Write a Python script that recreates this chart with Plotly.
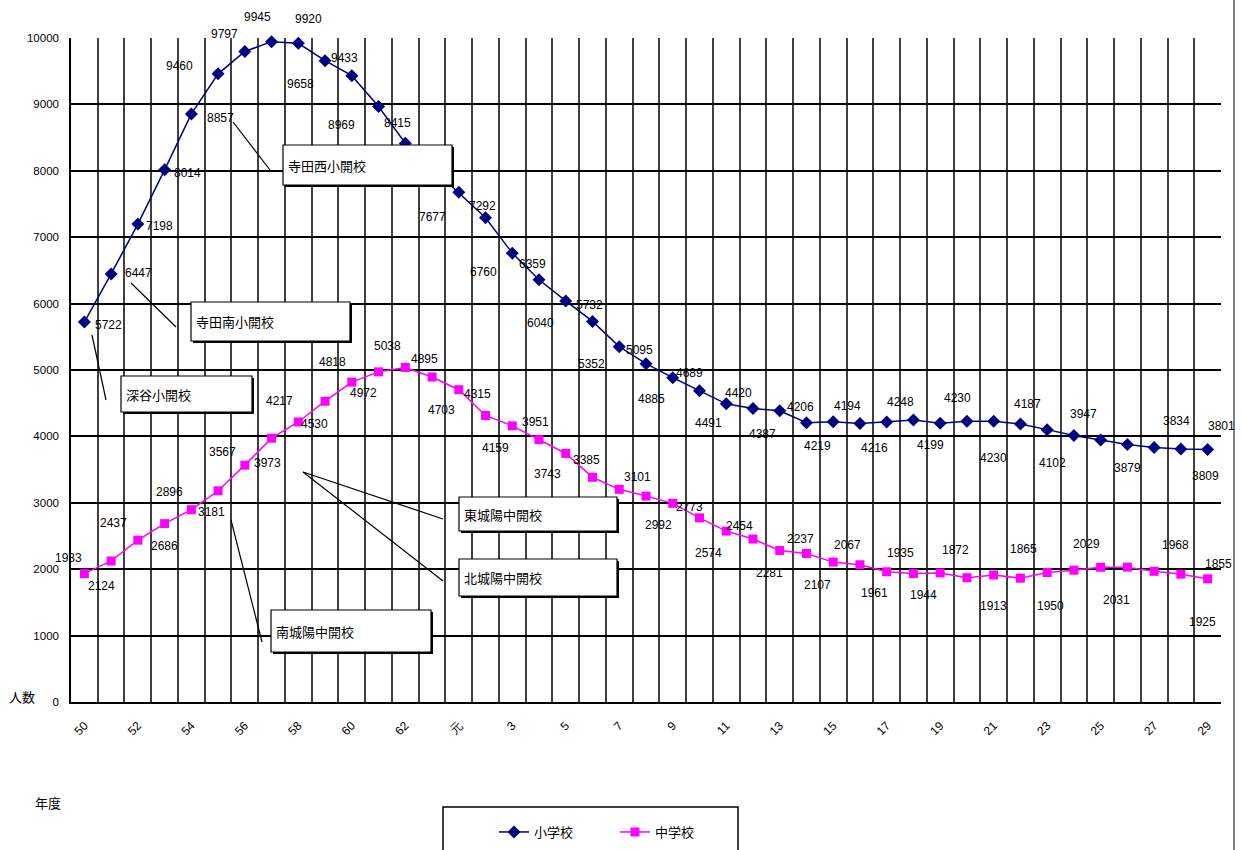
import plotly.graph_objects as go

# ---------------- data ----------------
categories = [str(y) for y in range(50, 64)] + ["元"] + [str(y) for y in range(2, 30)]
elementary = [5722, 6447, 7198, 8014, 8857, 9460, 9797, 9945, 9920, 9658, 9433, 8969, 8415, 8041,
              7677, 7292, 6760, 6359, 6040, 5732, 5352, 5095, 4885, 4689, 4491, 4420, 4387, 4206,
              4219, 4194, 4216, 4248, 4199, 4230, 4230, 4187, 4102, 4014, 3947, 3879, 3834, 3809, 3801]
junior = [1933, 2124, 2437, 2686, 2896, 3181, 3567, 3973, 4217, 4530, 4818, 4972, 5038, 4895,
          4703, 4315, 4159, 3951, 3743, 3385, 3203, 3101, 2992, 2773, 2574, 2454, 2281, 2237,
          2107, 2067, 1961, 1935, 1944, 1872, 1913, 1865, 1950, 1985, 2029, 2031, 1968, 1925, 1855]
series_names = ["小学校", "中学校"]
y_ticks = list(range(0, 10001, 1000))
y_ticktext = [str(v) for v in y_ticks]

# label offsets (pixels, dx right, dy down); None = no label shown
elem_off = [(24, 3), (27, -1), (22, 2), (23, 3), (29, 4), (-39, -8), (-20, -17), (-14, -25), (10, -24),
            (-25, 23), (-7, -18), (-37, 19), (-8, -20), None, (-26, 25), (-3, -12), (-29, 19), (-7, -16),
            (-25, 22), (-3, -16), (-28, 17), (-7, -14), (-21, 21), (-10, -18), (-18, 19), (-14, -16),
            (-17, 23), (-6, -16), (-16, 24), (-12, -18), (-12, 26), (-13, -18), (-10, 22), (-9, -23),
            (0, 37), (7, -20), (5, 33), None, (-17, -26), (0, 24), (22, -26), (25, 27), (14, -24)]
jun_off = [(-16, -16), (-10, 25), (-24, -17), (0, 22), (-22, -18), (-7, 21), (-22, -13), (-4, 25),
           (-19, -21), (-11, 23), (-19, -20), (-15, 21), (-18, -21), (-8, -18), (-17, 20), (-8, -21),
           (-17, 22), (-4, -18), (-18, 21), (-6, -17), None, (-9, -19), (-14, 22), (-10, -11),
           (-18, 22), (-13, -13), (-10, 22), (-6, -14), (-16, 23), (-12, -20), (-12, 21), (-13, -21),
           (-17, 22), (-11, -28), (0, 31), (3, -29), (3, 33), None, (-14, -23), (-11, 33), (21, -26),
           (22, 48), (11, -15)]

# ---------------- layout geometry ----------------
W, H = 1242, 850
ML, MR, MT, MB = 71, 21, 38, 148
PW, PH = W - ML - MR, H - MT - MB


def px(x):
    return (x - ML) / PW


def py(y):
    return (H - MB - y) / PH


NUM_FONT = "Liberation Sans Narrow, Liberation Sans, Arial, sans-serif"
CJK_FONT = "Noto Sans CJK JP, sans-serif"
NAVY = "#000080"
MAGENTA = "#FF00FF"

xs = list(range(len(categories)))

fig = go.Figure()
fig.add_trace(go.Scatter(x=xs, y=elementary, name=series_names[0], mode="lines+markers",
                         line=dict(color=NAVY, width=1.5),
                         marker=dict(symbol="diamond", size=10, color=NAVY),
                         cliponaxis=False))
fig.add_trace(go.Scatter(x=xs, y=junior, name=series_names[1], mode="lines+markers",
                         line=dict(color=MAGENTA, width=1.5),
                         marker=dict(symbol="square", size=9, color=MAGENTA),
                         cliponaxis=False))

annotations = []
for vals, offs in ((elementary, elem_off), (junior, jun_off)):
    for i, (v, o) in enumerate(zip(vals, offs)):
        if o is None:
            continue
        annotations.append(dict(x=i, y=v, xref="x", yref="y", text=str(v), showarrow=False,
                                xshift=o[0], yshift=-o[1], xanchor="center", yanchor="middle",
                                font=dict(family=NUM_FONT, size=12, color="#000000")))

shapes = []
# callout boxes: (label, x0, y0, x1, y1) in pixels, plus leader lines
boxes = [("寺田西小開校", 283, 145, 452, 185),
         ("寺田南小開校", 191, 302, 350, 341),
         ("深谷小開校", 121, 376, 252, 412),
         ("東城陽中開校", 459, 497, 617, 531),
         ("北城陽中開校", 459, 559, 617, 596),
         ("南城陽中開校", 271, 610, 431, 652)]
leaders = [(233, 122, 270, 170), (131, 283, 176, 327), (92, 335, 106, 400),
           (303, 472, 443, 519), (303, 472, 443, 581), (231, 520, 262, 642)]
for x0, y0, x1, y1 in leaders:
    shapes.append(dict(type="line", xref="paper", yref="paper", x0=px(x0), y0=py(y0),
                       x1=px(x1), y1=py(y1), line=dict(color="#000000", width=1.2)))
for label, x0, y0, x1, y1 in boxes:
    shapes.append(dict(type="rect", xref="paper", yref="paper", x0=px(x0 + 2), y0=py(y0 + 2),
                       x1=px(x1 + 2), y1=py(y1 + 2), fillcolor="#000000", line=dict(width=0)))
    shapes.append(dict(type="rect", xref="paper", yref="paper", x0=px(x0), y0=py(y0),
                       x1=px(x1), y1=py(y1), fillcolor="#FFFFFF",
                       line=dict(color="#000000", width=1.2)))
    annotations.append(dict(x=px(x0 + 3), y=py((y0 + y1) / 2), xref="paper", yref="paper",
                            text=label, showarrow=False, xanchor="left", yanchor="middle",
                            font=dict(family=CJK_FONT, size=13, color="#000000")))

# legend frame
shapes.append(dict(type="rect", xref="paper", yref="paper", x0=px(443), y0=py(852), x1=px(738),
                   y1=py(807), fillcolor="rgba(0,0,0,0)", line=dict(color="#000000", width=1.5)))
# outer chart border on the right
shapes.append(dict(type="line", xref="paper", yref="paper", x0=px(1234), y0=py(0), x1=px(1234),
                   y1=py(850), line=dict(color="#555555", width=1.5)))

# axis titles
annotations.append(dict(x=px(22), y=py(696), xref="paper", yref="paper", text="人数", showarrow=False,
                        xanchor="center", yanchor="middle",
                        font=dict(family=CJK_FONT, size=13, color="#000000")))
annotations.append(dict(x=px(48), y=py(803), xref="paper", yref="paper", text="年度", showarrow=False,
                        xanchor="center", yanchor="middle",
                        font=dict(family=CJK_FONT, size=13, color="#000000")))

fig.update_layout(
    width=W, height=H, margin=dict(l=ML, r=MR, t=MT, b=MB, autoexpand=False),
    paper_bgcolor="#FFFFFF", plot_bgcolor="#FFFFFF",
    showlegend=True,
    legend=dict(orientation="h", xref="container", yref="container", x=615 / W, y=1 - 832 / H,
                xanchor="center", yanchor="middle",
                font=dict(family=CJK_FONT, size=13, color="#000000"), bgcolor="rgba(0,0,0,0)",
                itemwidth=30, entrywidth=76),
    shapes=shapes, annotations=annotations,
)
fig.update_xaxes(range=[-0.5, len(categories) - 0.5], tickmode="array",
                 tickvals=xs[::2], ticktext=categories[::2], tickangle=-45, ticks="",
                 showgrid=False, zeroline=False, showline=True, linecolor="#000000", linewidth=2,
                 mirror=False, ticklabelstandoff=10,
                 tickfont=dict(family=NUM_FONT, size=12, color="#000000"),
                 minor=dict(tickmode="linear", tick0=-0.5, dtick=1, showgrid=True,
                            gridcolor="#404040", gridwidth=1.5, ticks=""))
fig.update_yaxes(range=[0, 10000], tickmode="array", tickvals=y_ticks, ticktext=y_ticktext, ticks="",
                 showgrid=True, gridcolor="#000000", gridwidth=1.5, zeroline=False,
                 showline=True, linecolor="#000000", linewidth=1.5, ticklabelstandoff=8,
                 tickfont=dict(family=NUM_FONT, size=11.5, color="#000000"))

fig.write_html("out.html", config={"displayModeBar": False},
               post_script="document.body.style.margin='0';")
